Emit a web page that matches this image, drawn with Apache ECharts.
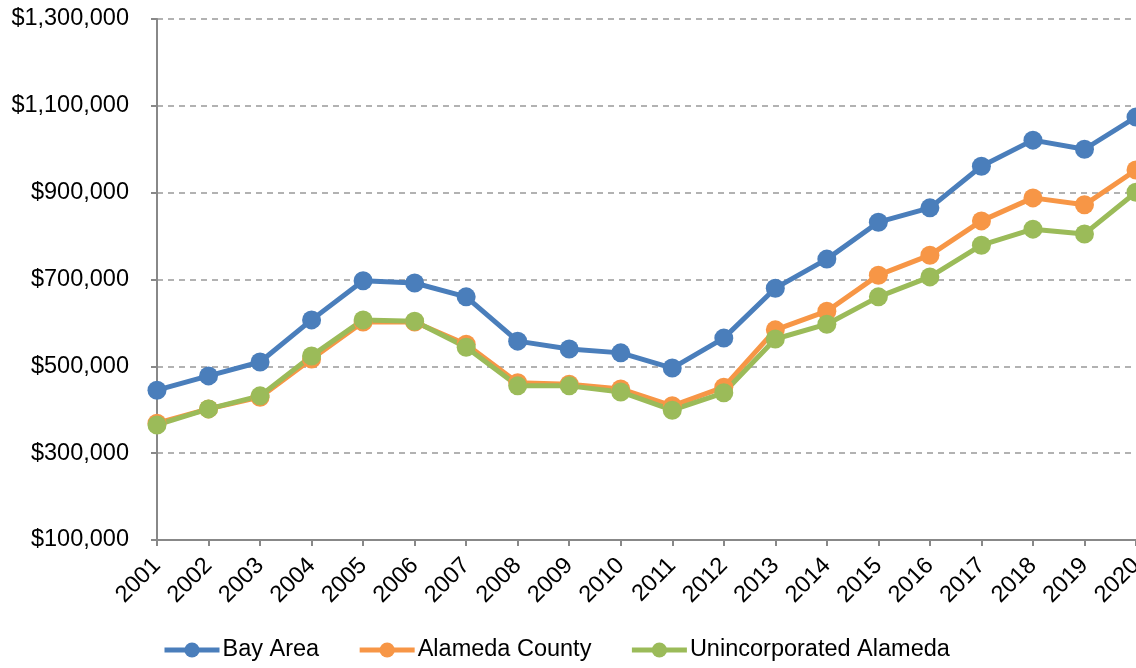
<!DOCTYPE html>
<html>
<head>
<meta charset="utf-8">
<script src="https://cdn.jsdelivr.net/npm/echarts@6/dist/echarts.min.js"></script>
<style>
  html, body { margin: 0; padding: 0; background: #fff; }
  #chart { width: 1136px; height: 668px; }
</style>
</head>
<body>
<div id="chart"></div>
<script>
// Median home sale prices, 2001-2020
const years = ['2001','2002','2003','2004','2005','2006','2007','2008','2009','2010',
               '2011','2012','2013','2014','2015','2016','2017','2018','2019','2020'];
const bayArea = [445000, 478000, 510000, 607000, 697000, 692000, 660000, 558000, 540000, 531000,
                 496000, 565000, 680000, 747000, 832000, 865000, 961000, 1021000, 1000000, 1074000];
const alamedaCounty = [369000, 402000, 429000, 517000, 602000, 602000, 551000, 462000, 459000, 448000,
                       409000, 452000, 584000, 627000, 710000, 756000, 835000, 888000, 872000, 952000];
const unincorporated = [365000, 402000, 432000, 524000, 607000, 604000, 544000, 455000, 455000, 441000,
                        399000, 439000, 563000, 597000, 660000, 706000, 779000, 816000, 805000, 901000];
const seriesNames = ['Bay Area', 'Alameda County', 'Unincorporated Alameda'];
const seriesColors = ['#4a7ebb', '#f79646', '#9bbb59'];

const FONT = 'Liberation Sans, Arial, sans-serif';
const FONT_SIZE = 23.5;

function money(v) {
  return '$' + v.toLocaleString('en-US');
}

function lineSeries(name, data, color) {
  return {
    name: name,
    type: 'line',
    data: data,
    symbol: 'circle',
    symbolSize: 19,
    showSymbol: true,
    lineStyle: { width: 5, color: color },
    itemStyle: { color: color },
    emphasis: { disabled: true },
    clip: false
  };
}

const chart = echarts.init(document.getElementById('chart'), null, { renderer: 'canvas' });
chart.setOption({
  animation: false,
  textStyle: { fontFamily: FONT },
  grid: {
    left: 157, right: 0, top: 19, bottom: 128,
    containLabel: false,
    outerBoundsMode: 'none'
  },
  legend: {
    bottom: 1,
    left: 157,
    padding: [5, 5, 5, 5],
    itemWidth: 55,
    itemHeight: 19,
    itemGap: 38,
    lineStyle: { width: 5 },
    itemStyle: { borderWidth: 0 },
    textStyle: { fontSize: FONT_SIZE, color: '#000', fontFamily: FONT, padding: [0, 0, 0, -2] },
    data: seriesNames
  },
  xAxis: {
    type: 'category',
    data: years,
    boundaryGap: false,
    axisLine: { lineStyle: { color: '#888', width: 2 } },
    axisTick: { show: true, alignWithLabel: true, length: 6, lineStyle: { color: '#888', width: 2 } },
    axisLabel: { rotate: 45, fontSize: FONT_SIZE, color: '#000', margin: 22, fontFamily: FONT, interval: 0 },
    splitLine: { show: false }
  },
  yAxis: {
    type: 'value',
    min: 100000,
    max: 1300000,
    interval: 200000,
    axisLine: { show: true, lineStyle: { color: '#888', width: 2 } },
    axisTick: { show: true, length: 6, lineStyle: { color: '#888', width: 2 } },
    axisLabel: { fontSize: FONT_SIZE, color: '#000', margin: 28, fontFamily: FONT, formatter: money },
    splitLine: { show: true, lineStyle: { color: '#999', type: [6, 5], width: 1.5 } }
  },
  series: [
    lineSeries(seriesNames[0], bayArea, seriesColors[0]),
    lineSeries(seriesNames[1], alamedaCounty, seriesColors[1]),
    lineSeries(seriesNames[2], unincorporated, seriesColors[2])
  ]
});
</script>
</body>
</html>
